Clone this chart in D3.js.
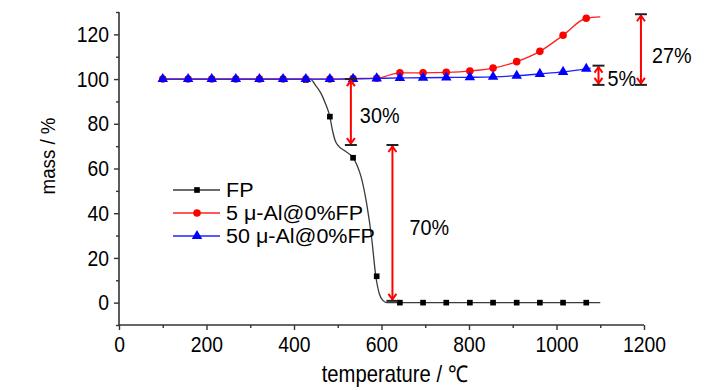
<!DOCTYPE html>
<html>
<head>
<meta charset="utf-8">
<script src="https://cdn.jsdelivr.net/npm/d3@7"></script>
<style>
  html, body { margin: 0; padding: 0; background: #fff; }
  svg text { font-family: "Liberation Sans", Arial, sans-serif; fill: #000; }
</style>
</head>
<body>
<svg id="chart" width="728" height="390"></svg>
<script>
// ---------- data ----------
const temps      = [100, 158, 212, 267, 321, 375, 427, 482, 535, 589, 642, 695, 748, 802, 855, 909, 962, 1015, 1068];
const fpMass     = [100, 100, 100, 100, 100, 100, 99.6, 83.2, 64.8, 11.8, 0, 0, 0, 0, 0, 0, 0, 0, 0];
const al5Mass    = [100, 100, 100, 100, 100, 100, 100, 100, 100.2, 100.4, 102.8, 102.8, 103.0, 103.6, 104.9, 107.8, 112.4, 119.6, 127.2];
const al50Mass   = [100, 100, 100, 100, 100, 100, 100, 100, 100.1, 100.3, 100.5, 100.6, 100.7, 100.8, 101.0, 101.5, 102.3, 103.2, 104.6];

// continuous TGA curve of FP (line only)
const fpCurveT   = [100, 437, 450, 462, 472, 482, 488, 494, 502, 515, 535, 545, 553, 566, 578, 587, 595, 603, 612, 1100];
const fpCurveM   = [100, 100, 97, 93.5, 89, 83.2, 77, 72.5, 70, 68, 64.8, 61, 56.5, 44.4, 28, 11.8, 4, 1, 0, 0];
// line ends beyond the last marker
const al5EndT = 1100, al5EndM = 127.8;
const al50EndT = 1078, al50EndM = 104.9;

const seriesNames = ["FP", "5 μ-Al@0%FP", "50 μ-Al@0%FP"];

// annotations (mass-change arrows)
const annT      = [530, 625, 1096, 1193];
const annTop    = [100, 70.5, 106, 129];
const annBottom = [70.5, 0.8, 97.4, 97.4];
const annLabel  = ["30%", "70%", "5%", "27%"];
const annLabelM = [84, 34, 100.6, 111];

const xTicks = [0, 200, 400, 600, 800, 1000, 1200];
const yTicks = [0, 20, 40, 60, 80, 100, 120];

// ---------- layout ----------
const svg = d3.select("#chart");
const X0 = 119, X1 = 644, Y0 = 325, Y1 = 12;
const x = d3.scaleLinear().domain([0, 1200]).range([X0, X1]);
const y = d3.scaleLinear().domain([-10, 130]).range([Y0, Y1]);
const axisColor = "#333";

// narrow the glyphs (reference font is a condensed sans)
function squeeze(sel, s) {
  sel.each(function () {
    const t = d3.select(this);
    const xx = +(t.attr("x") || 0);
    const prev = t.attr("transform") || "";
    t.attr("x", xx / s).attr("transform", (prev + ` scale(${s},1)`).trim());
  });
}

// axes
const gx = svg.append("g").attr("transform", `translate(0,${Y0})`)
  .call(d3.axisBottom(x).tickValues(d3.range(100, 1200, 200)).tickSize(3).tickFormat(""));
const gxM = svg.append("g").attr("transform", `translate(0,${Y0})`)
  .call(d3.axisBottom(x).tickValues(xTicks).tickSize(5).tickPadding(6).tickFormat(d3.format("d")));
const gy = svg.append("g").attr("transform", `translate(${X0},0)`)
  .call(d3.axisLeft(y).tickValues(d3.range(-10, 131, 20)).tickSize(3).tickFormat(""));
const gyM = svg.append("g").attr("transform", `translate(${X0},0)`)
  .call(d3.axisLeft(y).tickValues(yTicks).tickSize(5).tickPadding(5).tickFormat(d3.format("d")));

[gx, gxM, gy, gyM].forEach(g => {
  g.select(".domain").attr("stroke", axisColor).attr("stroke-width", 1.6);
  g.selectAll("line").attr("stroke", axisColor).attr("stroke-width", 1.4);
  g.selectAll("text").attr("font-size", 22.5).attr("font-family", null).attr("fill", "#000");
  squeeze(g.selectAll("text"), 0.86);
});
gxM.select(".domain").remove();
gyM.select(".domain").remove();
gx.select(".domain").attr("d", `M${X0},0H${X1}`);
gy.select(".domain").attr("d", `M0,${Y0}V${Y1}`);

// axis titles
svg.append("text").attr("transform", "translate(395,382)").attr("text-anchor", "middle")
  .attr("font-size", 23).text("temperature / ℃").call(squeeze, 0.88);
svg.append("text").attr("transform", "translate(55,156) rotate(-90)").attr("text-anchor", "middle")
  .attr("font-size", 21).text("mass / %").call(squeeze, 0.89);

// ---------- series ----------
const line = d3.line().x(d => x(d[0])).y(d => y(d[1])).curve(d3.curveMonotoneX);

const fpLinePts = fpCurveT.map((t, i) => [t, fpCurveM[i]]);
const al5Pts = temps.map((t, i) => [t, al5Mass[i]]);
const al50Pts = temps.map((t, i) => [t, al50Mass[i]]);

const colors = ["#000", "#ff0000", "#0000ff"];
const lineColors = ["#3a3a3a", "#ff2020", "#2020ff"];
const symbols = [d3.symbolSquare, d3.symbolCircle, d3.symbolTriangle];
const symSizes = [32, 45, 48];

function drawSeries(linePts, markerPts, idx) {
  svg.append("path").datum(linePts).attr("d", line)
    .attr("fill", "none").attr("stroke", lineColors[idx]).attr("stroke-width", 1.3);
  svg.append("g").selectAll("path").data(markerPts).join("path")
    .attr("transform", d => `translate(${x(d[0])},${y(d[1])})`)
    .attr("d", d3.symbol().type(symbols[idx]).size(symSizes[idx]))
    .attr("fill", colors[idx]);
}
drawSeries(fpLinePts, temps.map((t, i) => [t, fpMass[i]]), 0);
drawSeries(al5Pts.concat([[al5EndT, al5EndM]]), al5Pts, 1);
drawSeries(al50Pts.concat([[al50EndT, al50EndM]]), al50Pts, 2);

// ---------- legend ----------
const legX = 173, legY = 190, legDY = 23;
seriesNames.forEach((name, i) => {
  const g = svg.append("g").attr("transform", `translate(${legX},${legY + i * legDY})`);
  g.append("line").attr("x1", 0).attr("x2", 47).attr("stroke", lineColors[i]).attr("stroke-width", 1.3);
  g.append("path").attr("transform", "translate(24,0)")
    .attr("d", d3.symbol().type(symbols[i]).size(symSizes[i])).attr("fill", colors[i]);
  g.append("text").attr("x", 53).attr("y", 0).attr("dy", "0.36em").attr("font-size", 20.5).text(name)
    .call(squeeze, 1.05);
});

// ---------- annotations ----------
const labelDx = [9, 17, 9, 11];
const capW = 12;
annT.forEach((t, i) => {
  const ax = x(t), yt = y(annTop[i]), yb = y(annBottom[i]);
  const g = svg.append("g");
  g.append("line").attr("x1", ax).attr("x2", ax).attr("y1", yt + 1).attr("y2", yb - 1)
    .attr("stroke", "#f00").attr("stroke-width", 2);
  g.append("path").attr("d", `M${ax - 4},${yt + 7}L${ax},${yt + 1.5}L${ax + 4},${yt + 7}`)
    .attr("fill", "none").attr("stroke", "#f00").attr("stroke-width", 2);
  g.append("path").attr("d", `M${ax - 4},${yb - 7}L${ax},${yb - 1.5}L${ax + 4},${yb - 7}`)
    .attr("fill", "none").attr("stroke", "#f00").attr("stroke-width", 2);
  [yt, yb].forEach(yy => g.append("line").attr("x1", ax - capW / 2).attr("x2", ax + capW / 2)
    .attr("y1", yy).attr("y2", yy).attr("stroke", "#222").attr("stroke-width", 2));
  g.append("text").attr("x", ax + labelDx[i]).attr("y", y(annLabelM[i])).attr("dy", "0.36em")
    .attr("font-size", 22.5).text(annLabel[i]).call(squeeze, 0.88);
});
</script>
</body>
</html>
